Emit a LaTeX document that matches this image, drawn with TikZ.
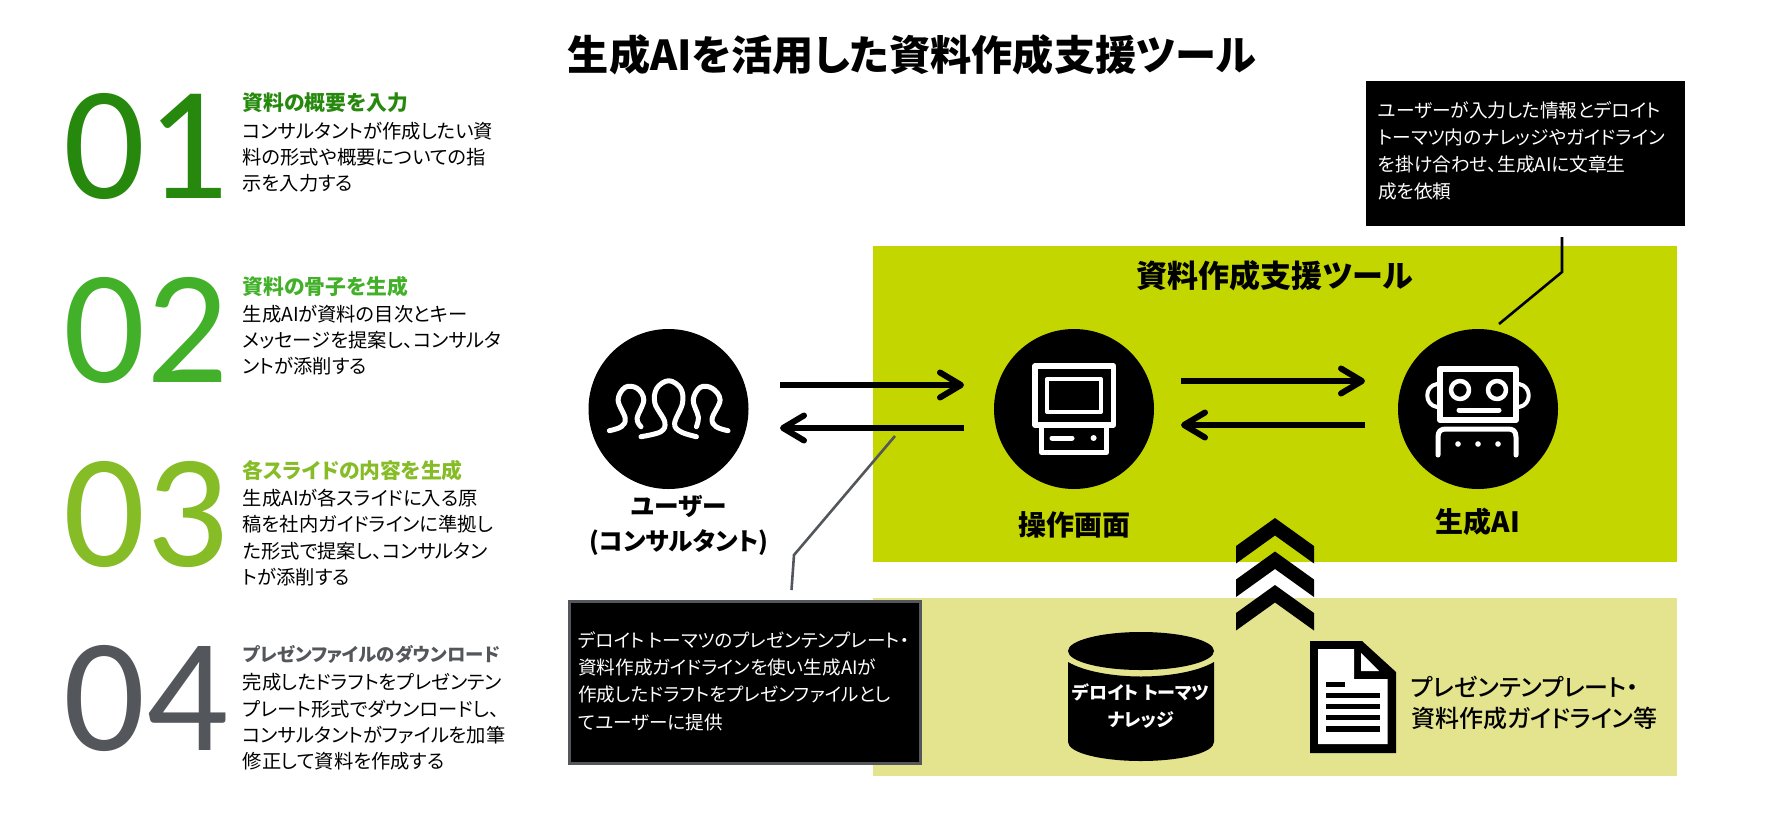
\documentclass[tikz,border=0pt]{standalone}
\usepackage{fontspec}
\usetikzlibrary{arrows.meta}
\setmainfont[RawFeature={+palt}]{Noto Sans CJK JP}
\newfontfamily\jpm[RawFeature={+palt}]{Noto Sans CJK JP Medium}
\newfontfamily\numf{Carlito}
\definecolor{panelgreen}{HTML}{C4D600}
\definecolor{panellight}{HTML}{E3E48D}
\definecolor{gone}{HTML}{26890D}
\definecolor{gtwo}{HTML}{43B02A}
\definecolor{gthree}{HTML}{86BC25}
\definecolor{gfour}{HTML}{53565A}
\tikzset{
  disc/.style={circle,fill=black,minimum size=160pt,inner sep=0pt},
  numtext/.style={font=\numf\fontsize{162}{162}\selectfont,inner sep=0pt},
  headtext/.style={anchor=west,inner sep=0pt,font=\bfseries\fontsize{20.8}{26}\selectfont},
  bodytext/.style={anchor=west,inner sep=0pt,align=left,font=\fontsize{19.3}{26.2}\selectfont},
  boxtext/.style={anchor=west,inner sep=0pt,align=left,text=white},
  labeltext/.style={inner sep=0pt,align=center,font=\bfseries\fontsize{28}{35}\selectfont},
  flowarrow/.style={line width=6pt,-{Straight Barb[length=21pt,width=25pt,round,line width=6pt]}},
  iconline/.style={draw=white,line width=4.5pt,line cap=round,line join=round},
  callout/.style={line width=2.6pt},
  chevron/.style={fill=black,draw=none},
}
\begin{document}
\begin{tikzpicture}[x=1pt,y=-1pt]
\useasboundingbox (0,0) rectangle (1765,812);
% panels
\fill[panelgreen] (873,246) rectangle (1677,562);
\fill[panellight] (873,598) rectangle (1677,776);
% title
\node[inner sep=0pt,font=\bfseries\fontsize{41.2}{48}\selectfont] (title) at (912,55) {生成AIを活用した資料作成支援ツール};
% left column
\node[numtext,text=gone] (n1) at (146,146) {01};
\node[numtext,text=gtwo] (n2) at (146,330) {02};
\node[numtext,text=gthree] (n3) at (146,514) {03};
\node[numtext,text=gfour] (n4) at (146,698) {04};
\node[headtext,text=gone] (h1) at (242.5,103) {資料の概要を入力};
\node[bodytext] (b1) at (242.5,157) {コンサルタントが作成したい資\\料の形式や概要についての指\\示を入力する};
\node[headtext,text=gtwo] (h2) at (242.5,287) {資料の骨子を生成};
\node[bodytext] (b2) at (242.5,340) {生成AIが資料の目次とキー\\メッセージを提案し、コンサルタ\\ントが添削する};
\node[headtext,text=gthree] (h3) at (242.5,471) {各スライドの内容を生成};
\node[bodytext] (b3) at (242.5,537.5) {生成AIが各スライドに入る原\\稿を社内ガイドラインに準拠し\\た形式で提案し、コンサルタン\\トが添削する};
\node[headtext,text=gfour,font=\bfseries\fontsize{18.4}{26}\selectfont] (h4) at (242.5,654) {プレゼンファイルのダウンロード};
\node[bodytext] (b4) at (242.5,722) {完成したドラフトをプレゼンテン\\プレート形式でダウンロードし、\\コンサルタントがファイルを加筆\\修正して資料を作成する};
% top callout
\node[fill=black,minimum width=319pt,minimum height=145pt,inner sep=0pt] (topbox) at (1525.5,153.5) {};
\node[boxtext,font=\fontsize{18.7}{27}\selectfont] (toptext) at (1378,151) {ユーザーが入力した情報とデロイト\\トーマツ内のナレッジやガイドライン\\を掛け合わせ、生成AIに文章生\\成を依頼};
% panel title
\node[inner sep=0pt,font=\bfseries\fontsize{31}{36}\selectfont] (ptitle) at (1275,276) {資料作成支援ツール};
% discs
\node[disc] (user) at (668.5,409) {};
\node[disc] (screen) at (1074,409) {};
\node[disc] (ai) at (1478,409) {};
% labels
\node[labeltext,font=\bfseries\fontsize{24.6}{35}\selectfont] (userlabel) at (679,525) {ユーザー\\(コンサルタント)};
\node[labeltext] (screenlabel) at (1074,525) {操作画面};
\node[labeltext] (ailabel) at (1478,522) {生成AI};
% arrows
\coordinate (a1s) at (780,385); \coordinate (a1e) at (964,385);
\coordinate (a2s) at (964,428); \coordinate (a2e) at (780,428);
\coordinate (a3s) at (1181,381); \coordinate (a3e) at (1365,381);
\coordinate (a4s) at (1365,425); \coordinate (a4e) at (1181,425);
\draw[flowarrow] (a1s) -- (a1e);
\draw[flowarrow] (a2s) -- (a2e);
\draw[flowarrow] (a3s) -- (a3e);
\draw[flowarrow] (a4s) -- (a4e);
% callout lines
\coordinate (c1a) at (895,436); \coordinate (c1b) at (794,555); \coordinate (c1c) at (791.5,590);
\draw[callout,draw=gfour] (c1a) -- (c1b) -- (c1c);
\coordinate (c2a) at (1562,237); \coordinate (c2b) at (1562,272); \coordinate (c2c) at (1499,324);
\draw[callout] (c2a) -- (c2b) -- (c2c);
% user icon
\draw[iconline,line width=5pt] plot[smooth,tension=0.6] coordinates {(641,436.7)(660.8,431.7)(664.7,421.7)(654.9,403.3)(656.8,388.3)(668.7,380.7)(680.6,388.3)(682.5,403.3)(674.6,423.3)(680.6,431.7)(696.4,436.7)};
\draw[iconline,line width=5pt] plot[smooth,tension=0.6] coordinates {(609.4,430.7)(621.3,426.7)(625.2,418.3)(618.1,400)(625.2,387.3)(637.1,388.3)(643.8,400)(637.1,418.3)(641,426.7)};
\draw[iconline,line width=5pt] plot[smooth,tension=0.6] coordinates {(728,430.7)(716.1,426.7)(712.2,418.3)(720.1,400)(712.2,388.3)(700.3,387.3)(693.2,400)(698.3,416.7)(696.4,426.7)};
% screen icon
\draw[iconline,line width=5.5pt] (1035,366) rectangle (1113.5,425);
\draw[iconline,line width=4pt] (1047,379) rectangle (1101,412);
\draw[iconline,line width=5pt] (1041.5,428) -- (1041.5,452.5) -- (1106.5,452.5) -- (1106.5,428);
\draw[iconline,line width=5pt] (1052,438) -- (1072,438);
\fill[white] (1093.6,438) circle (3pt);
% robot icon
\draw[iconline,line width=6pt] (1440,369) rectangle (1516,420);
\draw[iconline] (1460,390) circle (9pt);
\draw[iconline] (1497,390) circle (9pt);
\draw[iconline,line width=5pt] (1459,410) -- (1499,410);
\draw[iconline,line width=4pt] (1437,384) .. controls (1424,386) and (1424,405) .. (1437,407);
\draw[iconline,line width=4pt] (1519,384) .. controls (1532,386) and (1532,405) .. (1519,407);
\draw[iconline,line width=5pt] (1438,455) -- (1438,437) .. controls (1438,431) and (1441,429) .. (1446,429) -- (1508,429) .. controls (1513,429) and (1516,431) .. (1516,437) -- (1516,455);
\fill[white] (1458,444) circle (2.8pt) (1478,444) circle (2.8pt) (1498,444) circle (2.8pt);
% chevrons
\foreach \dy in {0,33.5,67}{
  \fill[chevron,yshift=-\dy pt] (1275,518) -- (1314,546) -- (1314,563.5) -- (1275,535.5) -- (1236,563.5) -- (1236,546) -- cycle;
}
% bottom black box
\node[fill=black,draw=gfour,line width=3pt,minimum width=351pt,minimum height=162pt,inner sep=0pt] (botbox) at (745,682.5) {};
\node[boxtext,font=\fontsize{18.6}{27.3}\selectfont] (bottext) at (578,681) {デロイト トーマツのプレゼンテンプレート・\\資料作成ガイドラインを使い生成AIが\\作成したドラフトをプレゼンファイルとし\\てユーザーに提供};
% cylinder
\fill[black] (1141,651) ellipse (73pt and 19pt);
\fill[black] (1068,662) .. controls (1085,672) and (1115,676.5) .. (1141,676.5) .. controls (1167,676.5) and (1197,672) .. (1214,662) -- (1214,742) .. controls (1214,753) and (1180,761) .. (1141,761) .. controls (1102,761) and (1068,753) .. (1068,742) -- cycle;
\node[inner sep=0pt,align=center,text=white,font=\bfseries\fontsize{18}{27}\selectfont] (cyl) at (1141,706) {デロイト トーマツ\\ナレッジ};
% document icon
\fill[black] (1310,641) -- (1362,641) -- (1396,672) -- (1396,753) -- (1310,753) -- cycle;
\fill[white] (1318,649) -- (1354,649) -- (1354,679) -- (1387.5,679) -- (1387.5,744) -- (1318,744) -- cycle;
\fill[white] (1361,653) -- (1379,671) -- (1361,671) -- cycle;
\fill[black] (1326,682) rectangle (1345,687);
\foreach \ly in {695.5,706.7,717.7,729}{\fill[black] (1326,\ly-2.7) rectangle (1380,\ly+2.7);}
\node[anchor=west,inner sep=0pt,align=left,font=\jpm\fontsize{24}{31}\selectfont] (doctext) at (1411,702.5) {プレゼンテンプレート・\\資料作成ガイドライン等};
\end{tikzpicture}
\end{document}
